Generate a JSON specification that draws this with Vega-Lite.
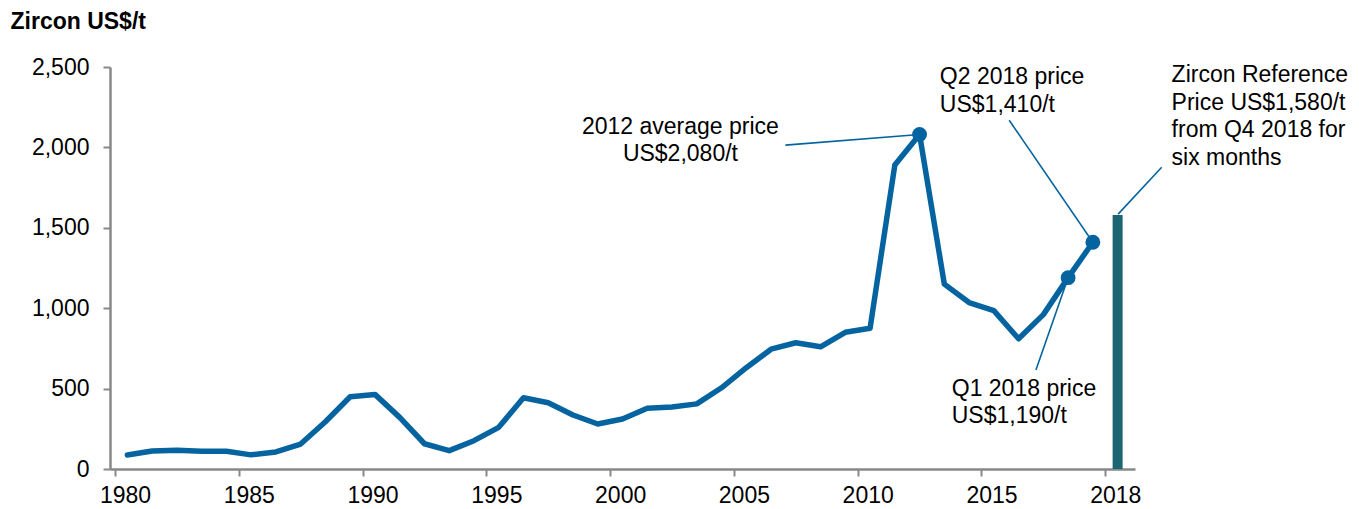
{
  "$schema": "https://vega.github.io/schema/vega-lite/v6.json",
  "width": 1025,
  "height": 402,
  "autosize": {"type": "none"},
  "padding": {"left": 110, "top": 67, "right": 224, "bottom": 40},
  "background": "white",
  "config": {
    "view": {"stroke": null},
    "font": "Liberation Sans",
    "axis": {
      "grid": false,
      "domainColor": "#888888",
      "tickColor": "#888888",
      "domainWidth": 2.5,
      "tickWidth": 2,
      "labelColor": "#000000",
      "labelFont": "Liberation Sans",
      "labelFontSize": 23
    }
  },
  "datasets": {
    "prices": [
      {"x": 1980, "period": "1980", "y": 87},
      {"x": 1981, "period": "1981", "y": 112},
      {"x": 1982, "period": "1982", "y": 116},
      {"x": 1983, "period": "1983", "y": 110},
      {"x": 1984, "period": "1984", "y": 110},
      {"x": 1985, "period": "1985", "y": 88},
      {"x": 1986, "period": "1986", "y": 106},
      {"x": 1987, "period": "1987", "y": 155},
      {"x": 1988, "period": "1988", "y": 294},
      {"x": 1989, "period": "1989", "y": 449},
      {"x": 1990, "period": "1990", "y": 464},
      {"x": 1991, "period": "1991", "y": 321},
      {"x": 1992, "period": "1992", "y": 157},
      {"x": 1993, "period": "1993", "y": 114},
      {"x": 1994, "period": "1994", "y": 176},
      {"x": 1995, "period": "1995", "y": 259},
      {"x": 1996, "period": "1996", "y": 443},
      {"x": 1997, "period": "1997", "y": 412},
      {"x": 1998, "period": "1998", "y": 336},
      {"x": 1999, "period": "1999", "y": 280},
      {"x": 2000, "period": "2000", "y": 311},
      {"x": 2001, "period": "2001", "y": 378},
      {"x": 2002, "period": "2002", "y": 386},
      {"x": 2003, "period": "2003", "y": 405},
      {"x": 2004, "period": "2004", "y": 505},
      {"x": 2005, "period": "2005", "y": 630},
      {"x": 2006, "period": "2006", "y": 745},
      {"x": 2007, "period": "2007", "y": 785},
      {"x": 2008, "period": "2008", "y": 760},
      {"x": 2009, "period": "2009", "y": 850},
      {"x": 2010, "period": "2010", "y": 875},
      {"x": 2011, "period": "2011", "y": 1890},
      {"x": 2012, "period": "2012", "y": 2080},
      {"x": 2013, "period": "2013", "y": 1150},
      {"x": 2014, "period": "2014", "y": 1035},
      {"x": 2015, "period": "2015", "y": 985},
      {"x": 2016, "period": "2016", "y": 810},
      {"x": 2017, "period": "2017", "y": 960},
      {"x": 2018, "period": "Q1 2018", "y": 1190},
      {"x": 2019, "period": "Q2 2018", "y": 1410}
    ],
    "reference": [
      {"x": 2020, "period": "Q4 2018 reference", "y": 1580}
    ],
    "notes": [
      {"x": 2002.34, "y": 2082, "text": ["2012 average price", "US$2,080/t"], "align": "center"},
      {"x": 2012.82, "y": 2393, "text": ["Q2 2018 price", "US$1,410/t"], "align": "left"},
      {"x": 2013.3, "y": 454, "text": ["Q1 2018 price", "US$1,190/t"], "align": "left"},
      {"x": 2022.18, "y": 2405, "text": ["Zircon Reference", "Price US$1,580/t", "from Q4 2018 for", "six months"], "align": "left"}
    ],
    "leaders": [
      {"x": 2006.58, "y": 2014, "x2": 2012, "y2": 2080},
      {"x": 2015.62, "y": 2169, "x2": 2019, "y2": 1410},
      {"x": 2016.7, "y": 615, "x2": 2018, "y2": 1190},
      {"x": 2021.78, "y": 1877, "x2": 2020.02, "y2": 1585}
    ]
  },
  "encoding": {
    "x": {
      "field": "x",
      "type": "quantitative",
      "scale": {"domain": [1979.5, 2020.5], "nice": false, "zero": false},
      "axis": {
        "title": null,
        "values": [1979.5, 1984.5, 1989.5, 1994.5, 1999.5, 2004.5, 2009.5, 2014.5, 2019.5],
        "labelExpr": "datum.value > 2019 ? '2018' : format(datum.value + 0.5, 'd')",
        "labelOffset": 10,
        "tickSize": 7,
        "labelPadding": 8,
        "labelFlush": false,
        "labelOverlap": false
      }
    },
    "y": {
      "field": "y",
      "type": "quantitative",
      "scale": {"domain": [0, 2500], "nice": false},
      "axis": {
        "values": [0, 500, 1000, 1500, 2000, 2500],
        "format": ",d",
        "tickSize": 7,
        "labelPadding": 14,
        "title": "Zircon US$/t",
        "titleAngle": 0,
        "titleAlign": "left",
        "titleBaseline": "alphabetic",
        "titleX": -100,
        "titleY": -39,
        "titleFont": "Liberation Sans",
        "titleFontSize": 23,
        "titleFontWeight": "bold",
        "titleColor": "#000000"
      }
    }
  },
  "layer": [
    {
      "data": {"name": "leaders"},
      "mark": {"type": "rule", "color": "#0564a0", "strokeWidth": 1.6},
      "encoding": {"x2": {"field": "x2"}, "y2": {"field": "y2"}}
    },
    {
      "data": {"name": "prices"},
      "mark": {"type": "line", "color": "#0564a0", "strokeWidth": 5.5, "strokeCap": "round", "strokeJoin": "round"}
    },
    {
      "data": {"name": "reference"},
      "mark": {"type": "bar", "color": "#1b6672", "size": 10}
    },
    {
      "data": {"name": "prices"},
      "transform": [{"filter": "datum.x == 2012 || datum.x == 2018 || datum.x == 2019"}],
      "mark": {"type": "point", "filled": true, "color": "#0564a0", "size": 220, "opacity": 1}
    },
    {
      "data": {"name": "notes"},
      "transform": [{"filter": "datum.align == 'center'"}],
      "mark": {"type": "text", "align": "center", "baseline": "alphabetic", "fontSize": 23, "lineHeight": 27, "color": "#000000", "font": "Liberation Sans"},
      "encoding": {"text": {"field": "text"}}
    },
    {
      "data": {"name": "notes"},
      "transform": [{"filter": "datum.align == 'left'"}],
      "mark": {"type": "text", "align": "left", "baseline": "alphabetic", "fontSize": 23, "lineHeight": 27.5, "color": "#000000", "font": "Liberation Sans"},
      "encoding": {"text": {"field": "text"}}
    }
  ]
}
